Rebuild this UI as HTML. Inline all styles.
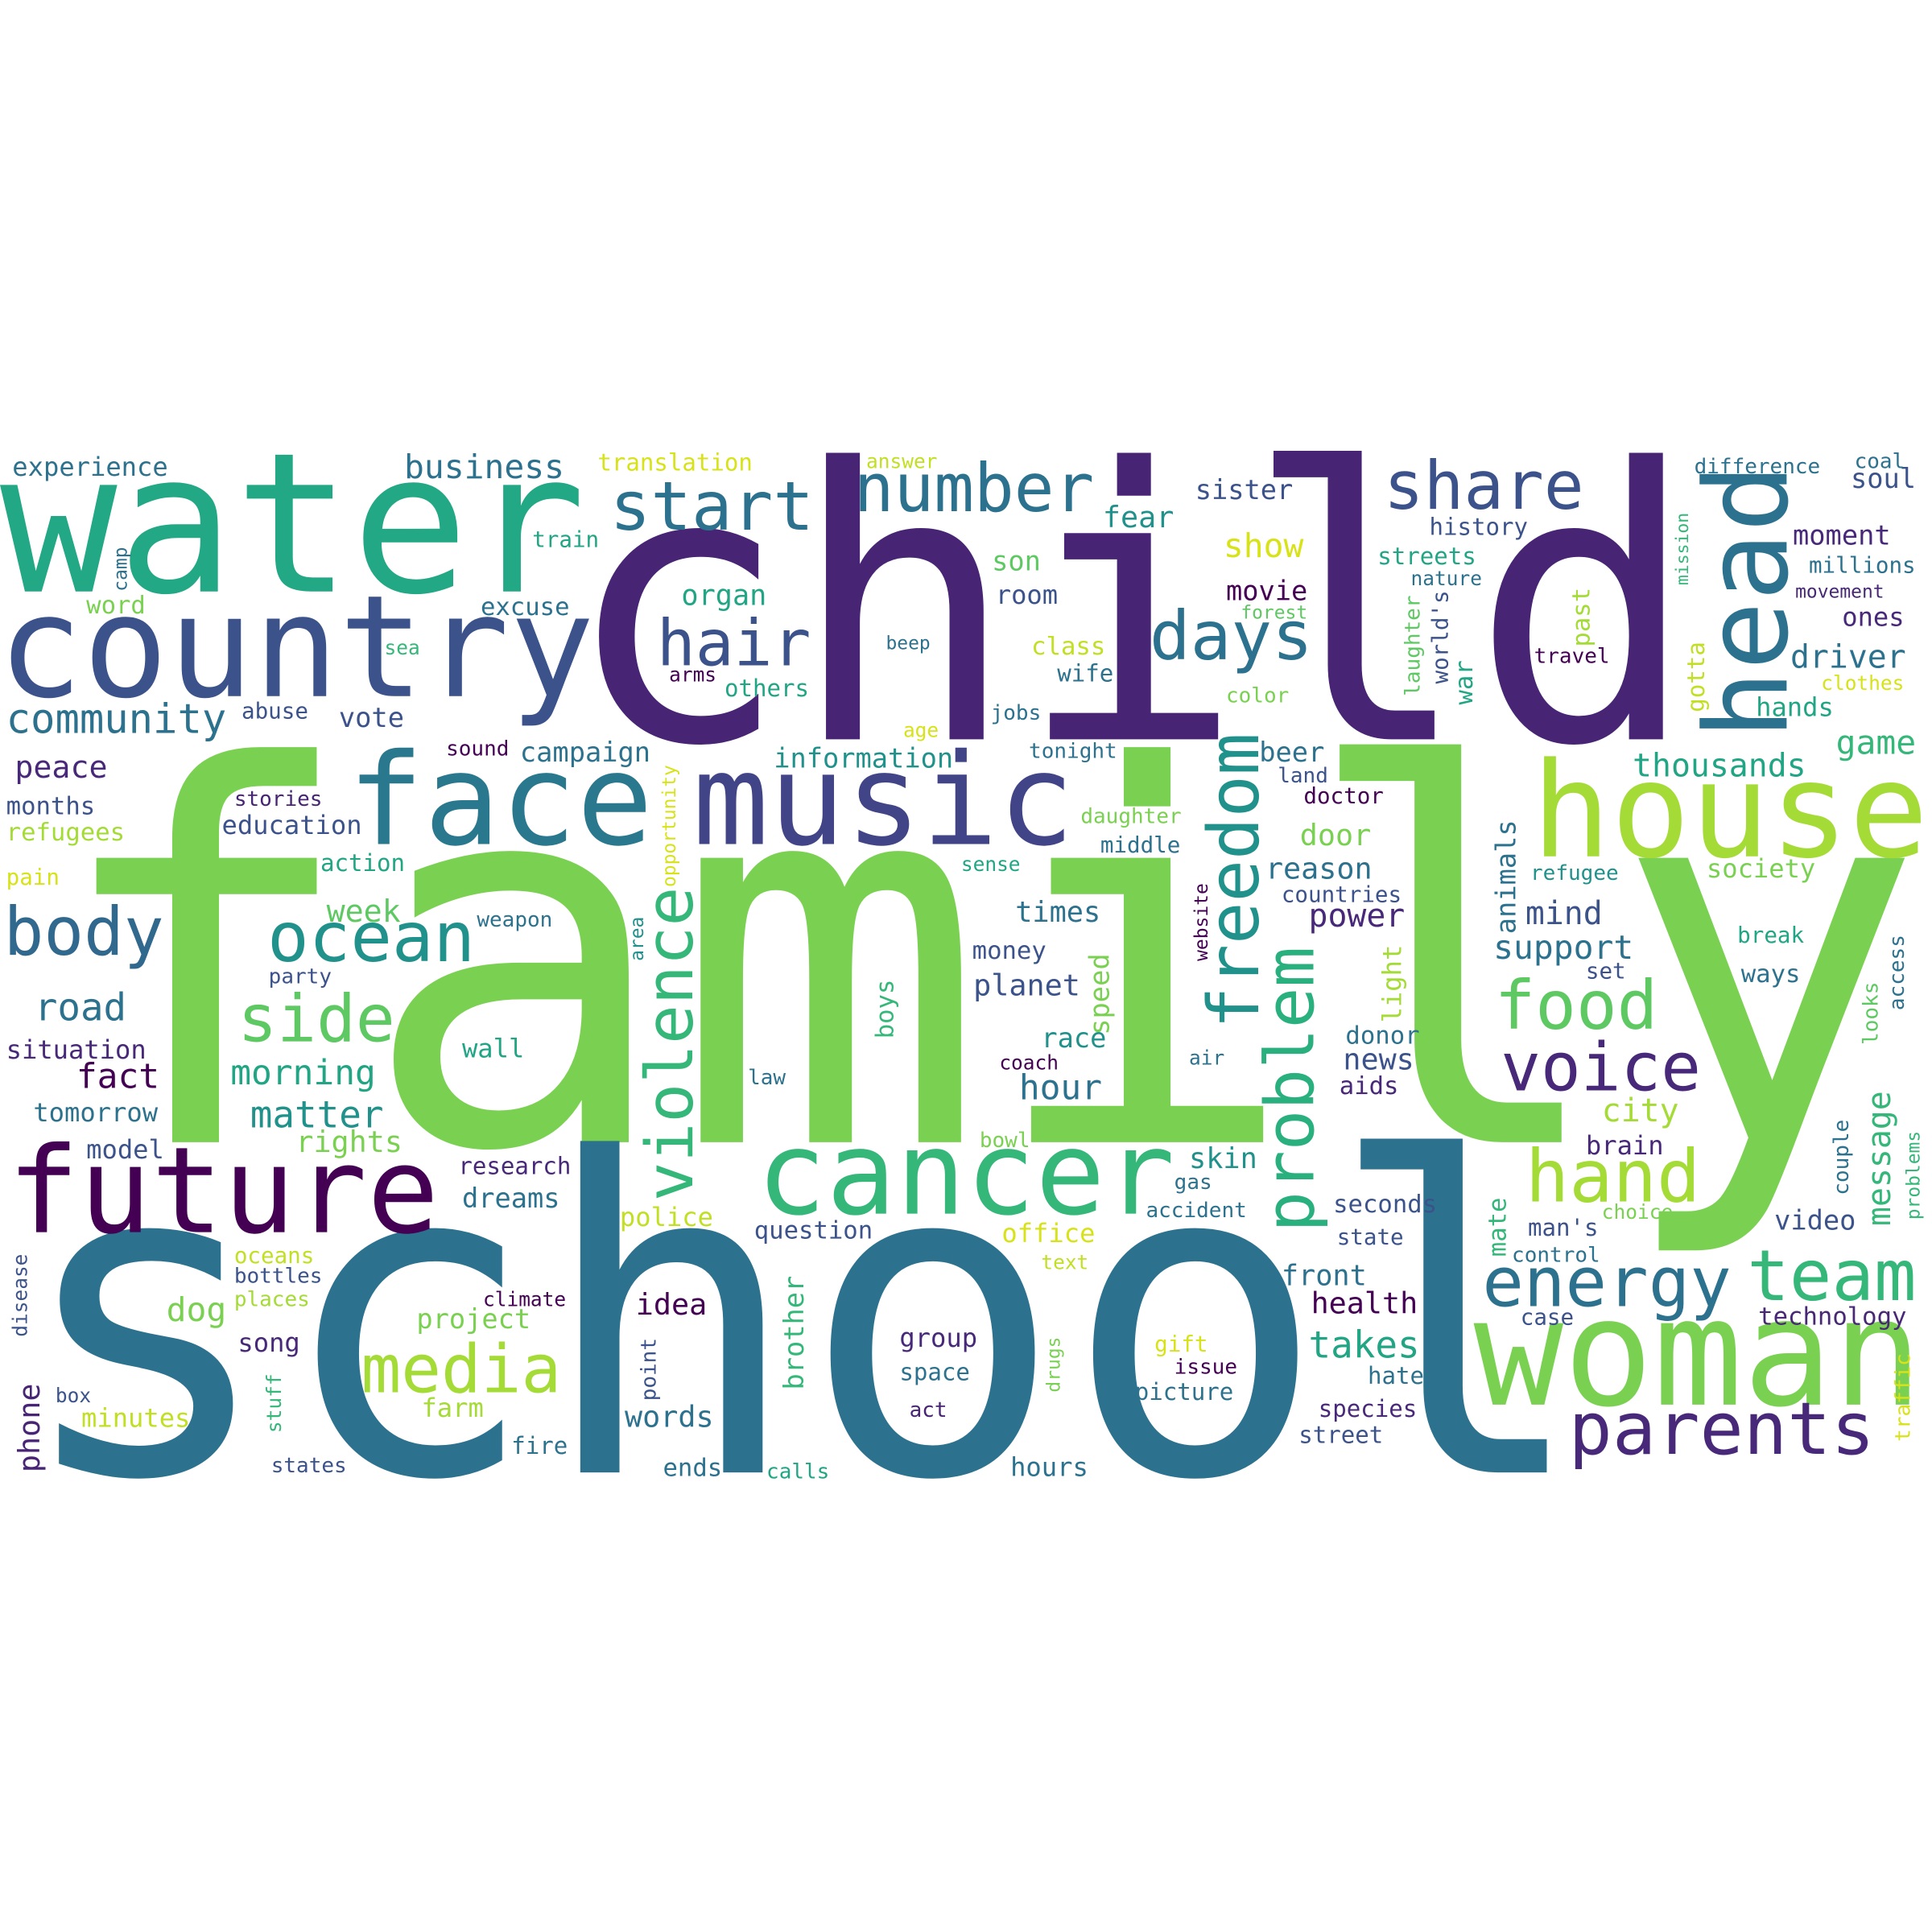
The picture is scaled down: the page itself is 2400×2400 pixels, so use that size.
<!DOCTYPE html>
<html>
<head>
<meta charset="utf-8">
<style>
html,body{margin:0;padding:0;background:#fff;}
svg{display:block;}
text{font-family:"DejaVu Sans Mono","Liberation Mono",monospace;}
</style>
</head>
<body>
<svg id="cloud" width="2400" height="2400" viewBox="0 0 1568 1568" xmlns="http://www.w3.org/2000/svg">
<rect width="1568" height="1568" fill="#ffffff"/>
<g id="words"></g>
</svg>
<script>
// word, x (baseline start), y (baseline), font size, color, vertical flag
const words = [
["family",38,927,422,"#7ad151",0],
["school",11,1195,354,"#2c728e",0],
["child",457,600,306,"#482475",0],
["water",0,480,158,"#22a884",0],
["country",-2,565,115,"#3b528b",0],
["future",6,1000,97,"#440154",0],
["face",282,685,103,"#2a788e",0],
["music",562,685,103,"#414487",0],
["cancer",614,985,94,"#35b779",0],
["woman",1196,1140,121,"#7ad151",0],
["house",1243,695,107,"#a5db36",0],
["head",1450,600,93,"#2c728e",1],
["share",1123,413,54,"#3b528b",0],
["number",693,415,54,"#2c728e",0],
["start",495,430,55,"#2c728e",0],
["days",933,535,55,"#2c728e",0],
["hair",533,540,52,"#3b528b",0],
["body",3,775,54,"#31688e",0],
["ocean",217,780,56,"#21918c",0],
["side",193,845,53,"#5ec962",0],
["voice",1218,885,54,"#482878",0],
["food",1213,835,55,"#5ec962",0],
["hand",1238,975,59,"#a5db36",0],
["energy",1203,1060,56,"#2c728e",0],
["team",1418,1055,57,"#35b779",0],
["parents",1273,1180,59,"#482878",0],
["media",293,1130,54,"#a5db36",0],
["violence",562,975,53,"#35b779",1],
["freedom",1021,835,57,"#21918c",1],
["problem",1066,1000,55,"#2ab07f",1],
["community",5,595,33,"#2c728e",0],
["business",328,388,27,"#2c728e",0],
["experience",10,386,21,"#2c728e",0],
["translation",485,382,19,"#d8e219",0],
["answer",703,380,16,"#c2df23",0],
["train",432,444,18,"#21a585",0],
["camp",103,480,15,"#2c728e",1],
["word",70,498,20,"#7ad151",0],
["sea",312,531,16,"#35b779",0],
["excuse",390,499,20,"#2c728e",0],
["abuse",196,583,18,"#3b528b",0],
["vote",275,590,22,"#3b528b",0],
["peace",12,631,25,"#482878",0],
["sound",362,613,17,"#440154",0],
["campaign",422,618,22,"#2c728e",0],
["months",5,661,20,"#3b528b",0],
["refugees",5,682,20,"#a5db36",0],
["stories",190,654,17,"#482475",0],
["education",180,677,21,"#3b528b",0],
["pain",5,718,18,"#d8e219",0],
["action",260,707,19,"#21a585",0],
["week",265,748,25,"#5ec962",0],
["weapon",387,752,17,"#2c728e",0],
["party",218,798,17,"#3b528b",0],
["road",28,828,31,"#2c728e",0],
["situation",5,859,21,"#482878",0],
["wall",375,858,21,"#21a585",0],
["fact",62,883,28,"#440154",0],
["morning",187,880,28,"#21a585",0],
["tomorrow",27,910,21,"#2c728e",0],
["matter",203,915,30,"#21918c",0],
["rights",240,935,24,"#7ad151",0],
["model",70,940,21,"#3b528b",0],
["research",372,953,19,"#482878",0],
["dreams",375,980,22,"#2c728e",0],
["police",503,995,21,"#c2df23",0],
["question",612,1005,20,"#3b528b",0],
["disease",22,1085,16,"#3b528b",1],
["oceans",190,1025,18,"#c2df23",0],
["bottles",190,1041,17,"#3b528b",0],
["places",190,1060,17,"#a5db36",0],
["dog",135,1072,27,"#7ad151",0],
["climate",392,1060,16,"#440154",0],
["project",338,1078,22,"#7ad151",0],
["song",193,1097,21,"#482878",0],
["box",45,1138,16,"#3b528b",0],
["phone",32,1195,24,"#482475",1],
["minutes",66,1158,21,"#c2df23",0],
["stuff",228,1163,16,"#35b779",1],
["farm",342,1150,21,"#a5db36",0],
["fire",415,1180,19,"#2c728e",0],
["states",220,1195,17,"#3b528b",0],
["idea",516,1067,24,"#440154",0],
["point",532,1137,17,"#3b528b",1],
["words",507,1158,24,"#2c728e",0],
["brother",652,1128,22,"#35b779",1],
["ends",538,1198,20,"#2c728e",0],
["calls",622,1200,17,"#21a585",0],
["group",730,1093,21,"#482878",0],
["space",730,1120,19,"#2c728e",0],
["act",738,1150,17,"#482475",0],
["hours",820,1198,21,"#2c728e",0],
["drugs",860,1130,15,"#7ad151",1],
["gift",937,1097,18,"#d8e219",0],
["issue",953,1115,17,"#440154",0],
["picture",921,1136,19,"#2c728e",0],
["text",845,1030,16,"#c2df23",0],
["office",813,1008,21,"#d8e219",0],
["accident",930,988,17,"#2c728e",0],
["gas",953,965,17,"#2c728e",0],
["skin",965,948,23,"#21918c",0],
["bowl",795,931,17,"#7ad151",0],
["coach",811,868,16,"#440154",0],
["air",965,864,16,"#2c728e",0],
["law",607,880,17,"#2c728e",0],
["race",845,850,22,"#21918c",0],
["hour",827,892,28,"#2c728e",0],
["speed",900,840,22,"#7ad151",1],
["planet",790,808,24,"#3b528b",0],
["money",789,778,20,"#3b528b",0],
["times",824,748,23,"#2c728e",0],
["boys",725,843,20,"#35b779",1],
["area",522,780,15,"#21918c",1],
["opportunity",548,720,15,"#d8e219",1],
["information",628,623,22,"#21918c",0],
["tonight",835,615,17,"#2c728e",0],
["jobs",804,584,17,"#2c728e",0],
["age",733,598,16,"#d8e219",0],
["sense",780,707,16,"#21a585",0],
["daughter",877,668,17,"#7ad151",0],
["middle",893,692,18,"#2c728e",0],
["beer",1022,618,22,"#2c728e",0],
["land",1037,635,17,"#3b528b",0],
["doctor",1058,652,18,"#440154",0],
["door",1055,686,24,"#7ad151",0],
["reason",1027,713,24,"#2c728e",0],
["countries",1040,732,18,"#3b528b",0],
["power",1062,752,26,"#482878",0],
["website",980,780,15,"#440154",1],
["light",1137,830,21,"#a5db36",1],
["donor",1092,847,20,"#2c728e",0],
["news",1090,868,24,"#3b528b",0],
["aids",1087,888,20,"#482878",0],
["seconds",1082,984,20,"#3b528b",0],
["state",1085,1010,18,"#3b528b",0],
["front",1040,1043,23,"#2c728e",0],
["health",1064,1066,24,"#440154",0],
["takes",1062,1102,30,"#21a585",0],
["hate",1110,1123,19,"#2c728e",0],
["species",1070,1150,19,"#482878",0],
["street",1054,1171,19,"#3b528b",0],
["mate",1222,1020,20,"#35b779",1],
["man's",1240,1003,19,"#3b528b",0],
["choice",1300,989,16,"#7ad151",0],
["control",1227,1024,17,"#2c728e",0],
["case",1234,1075,18,"#3b528b",0],
["brain",1287,937,21,"#482878",0],
["city",1300,910,26,"#a5db36",0],
["video",1440,998,22,"#3b528b",0],
["message",1534,995,26,"#35b779",1],
["couple",1500,970,17,"#2c728e",1],
["problems",1558,990,15,"#35b779",1],
["technology",1427,1075,20,"#482875",0],
["traffic",1550,1170,17,"#d8e219",1],
["break",1410,765,18,"#21a585",0],
["ways",1413,797,20,"#2c728e",0],
["access",1545,820,17,"#2c728e",1],
["looks",1524,848,17,"#5ec962",1],
["set",1287,794,18,"#3b528b",0],
["support",1212,778,27,"#2c728e",0],
["mind",1238,750,26,"#3b528b",0],
["animals",1230,758,22,"#2c728e",1],
["refugee",1242,714,17,"#21918c",0],
["society",1385,712,21,"#7ad151",0],
["thousands",1325,630,26,"#21a585",0],
["game",1490,612,27,"#35b779",0],
["hands",1425,581,21,"#21a585",0],
["clothes",1478,560,16,"#d8e219",0],
["driver",1453,542,26,"#2c728e",0],
["ones",1495,508,21,"#482878",0],
["movement",1457,485,15,"#482875",0],
["millions",1468,465,18,"#2c728e",0],
["moment",1455,442,22,"#482878",0],
["soul",1502,396,22,"#3b528b",0],
["coal",1505,380,17,"#2c728e",0],
["difference",1375,384,17,"#2c728e",0],
["mission",1370,475,14,"#35b779",1],
["gotta",1383,578,19,"#c2df23",1],
["past",1290,525,20,"#a5db36",1],
["travel",1245,538,17,"#440154",0],
["history",1160,434,19,"#3b528b",0],
["streets",1118,458,19,"#21a585",0],
["nature",1145,475,16,"#2c728e",0],
["forest",1007,502,15,"#5ec962",0],
["laughter",1152,565,17,"#5ec962",1],
["world's",1175,555,18,"#3b528b",1],
["war",1195,572,20,"#21a585",1],
["color",995,570,17,"#7ad151",0],
["sister",970,405,22,"#3b528b",0],
["fear",895,428,24,"#21918c",0],
["show",993,452,27,"#d8e219",0],
["son",805,463,22,"#5ec962",0],
["room",808,490,21,"#3b528b",0],
["movie",995,487,22,"#440154",0],
["class",837,531,20,"#c2df23",0],
["beep",719,527,15,"#2c728e",0],
["wife",858,553,19,"#2c728e",0],
["organ",553,491,23,"#21a585",0],
["arms",543,553,16,"#440154",0],
["others",588,565,19,"#21a585",0]
];

const NS = "http://www.w3.org/2000/svg";
const g = document.getElementById("words");
words.forEach(function(w){
  const t = document.createElementNS(NS, "text");
  t.textContent = w[0];
  t.setAttribute("font-size", w[3]);
  t.setAttribute("fill", w[4]);
  if (w[5]) {
    t.setAttribute("transform", "translate(" + w[1] + "," + w[2] + ") rotate(-90)");
  } else {
    t.setAttribute("x", w[1]);
    t.setAttribute("y", w[2]);
  }
  
  
  g.appendChild(t);
});
</script>
</body>
</html>
